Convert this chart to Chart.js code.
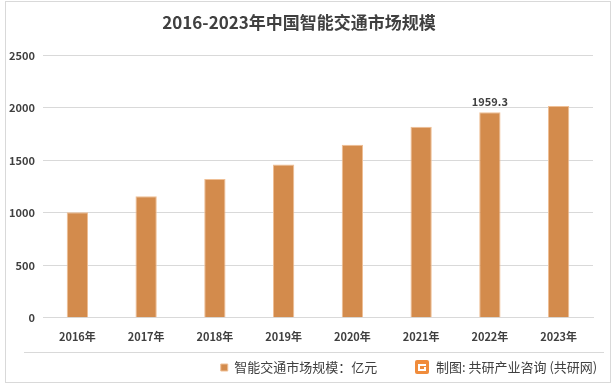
<!DOCTYPE html>
<html>
<head>
<meta charset="utf-8">
<script src="https://cdn.jsdelivr.net/npm/chart.js@4/dist/chart.umd.min.js"></script>
<style>
    body { margin: 0; background: #fff; }
    #wrap { width: 615px; height: 390px; position: relative; }
</style>
</head>
<body>
<div id="wrap"><canvas id="marketChart"></canvas></div>
<script>
const years = ['2016年', '2017年', '2018年', '2019年', '2020年', '2021年', '2022年', '2023年'];
const marketSize = [1005, 1159, 1323, 1461, 1649, 1820, 1959.3, 2019];
const labelledIndex = [6];
const seriesName = '智能交通市场规模：亿元';
const creditText = '制图: 共研产业咨询 (共研网)';
const titleText = '2016-2023年中国智能交通市场规模';

const fontFamily = '"Noto Sans CJK SC", "Noto Sans", sans-serif';

// frame, separator line, credit text and value labels
const decorPlugin = {
    id: 'decor',
    beforeDraw(chart) {
        const c = chart.ctx;
        c.save();
        c.fillStyle = '#fff';
        c.fillRect(0, 0, chart.width, chart.height);
        c.strokeStyle = '#d9d9d9';
        c.lineWidth = 1;
        c.strokeRect(5.5, 1.5, 605, 381);
        c.beginPath();
        c.moveTo(24, 352.5);
        c.lineTo(604, 352.5);
        c.stroke();
        c.restore();
    },
    afterDraw(chart) {
        const c = chart.ctx;
        c.save();
        // logo
        const lx = 415, ly = 360;
        c.fillStyle = '#f08c3c';
        c.beginPath();
        c.roundRect(lx, ly, 14, 14, 2);
        c.fill();
        c.fillStyle = '#fff';
        c.fillRect(lx + 3, ly + 4, 8, 2);
        c.fillRect(lx + 3, ly + 4, 2, 7);
        c.fillRect(lx + 3, ly + 9, 8, 2);
        c.fillRect(lx + 9, ly + 7, 2, 4);
        c.fillStyle = '#404040';
        c.font = '13px ' + fontFamily;
        c.textBaseline = 'middle';
        c.fillText(creditText, 436, 367);
        // value label
        const meta = chart.getDatasetMeta(0);
        c.font = 'bold 11px ' + fontFamily;
        c.textAlign = 'center';
        c.textBaseline = 'bottom';
        labelledIndex.forEach(i => {
            const bar = meta.data[i];
            c.fillText(String(marketSize[i]), bar.x, bar.y - 5);
        });
        c.restore();
    }
};

new Chart(document.getElementById('marketChart'), {
    type: 'bar',
    data: {
        labels: years,
        datasets: [{
            label: seriesName,
            data: marketSize,
            backgroundColor: '#d38b4c',
            borderColor: '#efbf95',
            borderWidth: 1,
            barPercentage: 0.31,
            categoryPercentage: 1
        }]
    },
    options: {
        responsive: true,
        maintainAspectRatio: false,
        animation: false,
        layout: { padding: { left: 5, right: 22, top: 4, bottom: 6 } },
        scales: {
            y: {
                min: 0,
                max: 2500,
                ticks: {
                    stepSize: 500,
                    color: '#404040',
                    font: { family: fontFamily, size: 11, weight: 'bold' },
                    padding: 8,
                    callback: v => String(v)
                },
                grid: { color: '#d9d9d9', drawTicks: false },
                border: { display: false },
                afterFit(scale) { scale.width = 38; }
            },
            x: {
                ticks: { color: '#404040', font: { family: fontFamily, size: 11, weight: 'bold' }, padding: 4 },
                grid: { display: false },
                border: { color: '#d9d9d9' }
            }
        },
        plugins: {
            title: {
                display: true,
                text: titleText,
                color: '#404040',
                font: { family: fontFamily, size: 17, weight: 'bold' },
                padding: { top: 8, bottom: 23 }
            },
            legend: {
                position: 'bottom',
                labels: {
                    boxWidth: 7,
                    boxHeight: 7,
                    color: '#404040',
                    font: { family: fontFamily, size: 13 },
                    padding: 14
                }
            },
            tooltip: { enabled: false }
        }
    },
    plugins: [decorPlugin]
});
</script>
</body>
</html>
